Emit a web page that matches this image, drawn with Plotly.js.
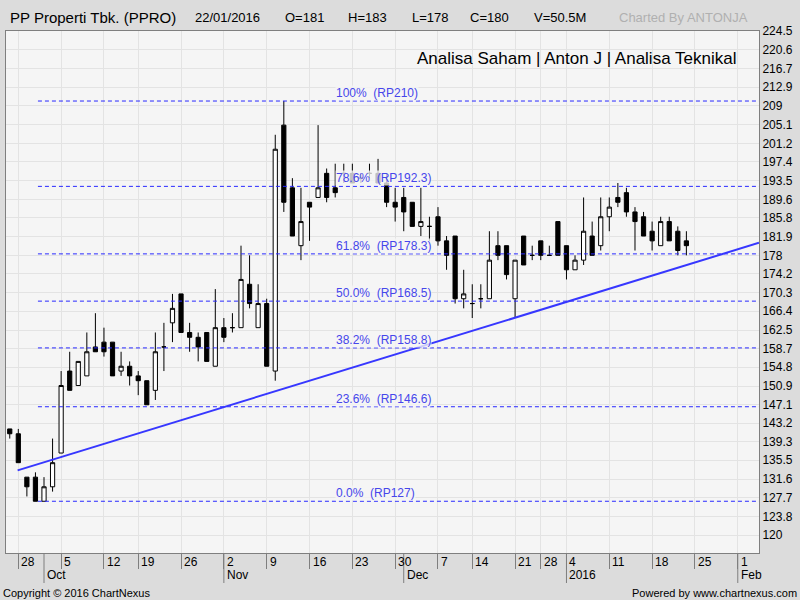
<!DOCTYPE html>
<html>
<head>
<meta charset="utf-8">
<script src="https://cdn.plot.ly/plotly-3.0.1.min.js"></script>
<style>html,body{margin:0;padding:0;background:#dcdcdc;}#chart{width:800px;height:600px;}</style>
</head>
<body>
<div id="chart"></div>
<script>
// ---- data (PPRO daily) ----
const dates = ['2015-09-25','2015-09-28','2015-09-29','2015-09-30','2015-10-01','2015-10-02',
'2015-10-05','2015-10-06','2015-10-07','2015-10-08','2015-10-09','2015-10-12','2015-10-13','2015-10-15','2015-10-16',
'2015-10-19','2015-10-20','2015-10-21','2015-10-22','2015-10-23','2015-10-26','2015-10-27','2015-10-28','2015-10-29','2015-10-30',
'2015-11-02','2015-11-03','2015-11-04','2015-11-05','2015-11-06','2015-11-09','2015-11-10','2015-11-11','2015-11-12','2015-11-13',
'2015-11-16','2015-11-17','2015-11-18','2015-11-19','2015-11-20','2015-11-23','2015-11-24','2015-11-25','2015-11-26','2015-11-27',
'2015-11-30','2015-12-01','2015-12-02','2015-12-03','2015-12-04','2015-12-07','2015-12-08','2015-12-10','2015-12-11',
'2015-12-14','2015-12-15','2015-12-16','2015-12-17','2015-12-18','2015-12-21','2015-12-22','2015-12-23','2015-12-28','2015-12-29','2015-12-30',
'2016-01-04','2016-01-05','2016-01-06','2016-01-07','2016-01-08','2016-01-11','2016-01-12','2016-01-13','2016-01-14','2016-01-15',
'2016-01-18','2016-01-19','2016-01-20','2016-01-21','2016-01-22'];
const openP  = [142,141,132,132,127,130, 137,154,151,153,159,160,160,154,155, 153,152,150,159,164,170,162,161,162,155,
 163,163,163,172,163,168,154,205,192,180, 189,190,195,192,195,195,194,195,195,193, 189,190,189,184,184,186,181,182,169,
 168,169,169,180,180,169,182,178,181,178,185, 180,175,177,182,180,186,190,191,187,186, 183,180,185,183,181];
const highP  = [142,142,132,133,132,140, 154,158,156,162,166,163,160,158,156, 154,152,162,164,170,170,164,162,162,171,
 165,166,180,178,172,169,203,210,194,192, 189,205,196,197,197,197,195,197,198,195, 192,192,189,192,186,188,182,182,175,
 172,172,183,183,180,177,182,180,181,180,185, 180,178,190,185,190,190,193,192,188,187, 185,186,186,184,183];
const lowP   = [140,135,128,127,127,129, 137,150,151,153,158,157,153,153,151, 149,147,148,154,160,162,158,156,156,155,
 160,162,163,167,163,155,152,187,182,177, 181,190,189,190,193,193,193,194,193,188, 185,183,184,182,181,180,175,168,167,
 165,167,169,177,173,165,176,177,177,178,178, 173,175,176,178,179,183,188,186,179,182, 179,180,181,178,178];
const closeP = [141,135,130,127,130,135, 151,150,156,158,158,158,153,155,153, 152,147,158,159,167,162,161,159,156,163,
 161,163,173,168,168,155,200,189,182,185, 188,192,190,191,195,193,194,195,193,189, 188,187,184,185,184,181,178,169,170,
 168,169,177,178,174,177,176,178,178,178,178, 175,177,183,178,186,188,189,187,185,182, 181,185,181,179,180];

// market holidays (no bars)
const holidays = ['2015-10-14','2015-12-09','2015-12-24','2015-12-25','2015-12-31','2016-01-01'];

// x-axis labels
const weekTickDates = ['2015-09-28','2015-10-05','2015-10-12','2015-10-19','2015-10-26','2015-11-02','2015-11-09','2015-11-16',
 '2015-11-23','2015-11-30','2015-12-07','2015-12-14','2015-12-21','2015-12-28','2016-01-04','2016-01-11','2016-01-18','2016-01-25','2016-02-01'];
const weekTickText = ['28','5','12','19','26','2','9','16','23','30','7','14','21','28','4','11','18','25','1'];
const monthDates = ['2015-10-01','2015-11-02','2015-12-01','2016-01-04','2016-02-01'];
const monthText = ['Oct','Nov','Dec','2016','Feb'];

// y-axis labels
const yTickVals = [224.5,220.6,216.7,212.9,209,205.1,201.2,197.4,193.5,189.6,185.8,181.9,178,174.2,170.3,166.4,162.5,158.7,154.8,150.9,147.1,143.2,139.3,135.5,131.6,127.7,123.8,120];

// Fibonacci retracement
const fibPct   = ['100%','78.6%','61.8%','50.0%','38.2%','23.6%','0.0%'];
const fibPrice = [210,192.3,178.3,168.5,158.8,146.6,127];
const fibStart = '2015-09-30 19:00';

// trend line
const trendX = ['2015-09-28 10:00','2016-02-03 23:30'];
const trendY = [133.4,180.6];

// header
const headerTexts = ['PP Properti Tbk. (PPRO)','22/01/2016','O=181','H=183','L=178','C=180','V=50.5M','Charted By ANTONJA'];

// ---- build ----
const noon = d => d + ' 12:00';
const xRange = ['2015-09-25 01:30','2016-02-03 23:30'];
const plotL = 6, plotW = 753, plotT = 31, plotH = 522;
const px2paperX = p => (p - plotL) / plotW;
const py2paperY = p => (plotT + plotH - p) / plotH;

const traces = [];
fibPrice.forEach(v => {
  traces.push({type:'scatter', mode:'lines', x:[fibStart, xRange[1]], y:[v, v],
    line:{color:'rgb(40,40,255)', width:1, dash:'4px,3px'}, hoverinfo:'skip', showlegend:false});
});
traces.push({type:'scatter', mode:'lines', x:trendX, y:trendY,
  line:{color:'rgb(55,55,255)', width:2}, hoverinfo:'skip', showlegend:false});
traces.push({type:'candlestick', x:dates.map(noon), open:openP, high:highP, low:lowP, close:closeP,
  increasing:{line:{color:'#000', width:1}, fillcolor:'#ffffff'},
  decreasing:{line:{color:'#000', width:1}, fillcolor:'#000000'},
  whiskerwidth:0, showlegend:false, hoverinfo:'skip'});

const annotations = [];
fibPct.forEach((p, i) => {
  annotations.push({xref:'paper', yref:'y', x:px2paperX(335), y:fibPrice[i], xanchor:'left', yanchor:'bottom',
    yshift:0, showarrow:false, text:p + '\u00a0\u00a0(RP' + fibPrice[i] + ')',
    font:{size:12, color:'rgb(70,70,235)'}, bgcolor:'rgba(245,245,245,0.78)', borderpad:0});
});
weekTickDates.forEach((d, i) => {
  annotations.push({xref:'x', yref:'paper', x:noon(d), y:0, xanchor:'left', yanchor:'middle', xshift:1, yshift:-9,
    showarrow:false, text:weekTickText[i], font:{size:12, color:'#000'}});
});
monthDates.forEach((d, i) => {
  annotations.push({xref:'x', yref:'paper', x:noon(d), y:0, xanchor:'left', yanchor:'middle', xshift:1, yshift:-22,
    showarrow:false, text:monthText[i], font:{size:12, color:'#000'}});
});
const headerX = [8,193,283,346,410,468,532,617];
headerTexts.forEach((t, i) => {
  annotations.push({xref:'paper', yref:'paper', x:px2paperX(headerX[i]), y:py2paperY(17), xanchor:'left', yanchor:'middle',
    showarrow:false, text:t, font:{size:i === 0 ? 15 : 13, color: i === 7 ? '#b0b0b0' : '#000'}});
});
annotations.push({xref:'paper', yref:'paper', x:px2paperX(738), y:py2paperY(58), xanchor:'right', yanchor:'middle',
  showarrow:false, text:'Analisa Saham | Anton J | Analisa Teknikal', font:{size:17, color:'#000'}});
annotations.push({xref:'paper', yref:'paper', x:px2paperX(1), y:py2paperY(593), xanchor:'left', yanchor:'middle',
  showarrow:false, text:'Copyright © 2016 ChartNexus', font:{size:11, color:'#000'}});
annotations.push({xref:'paper', yref:'paper', x:px2paperX(799), y:py2paperY(593), xanchor:'right', yanchor:'middle',
  showarrow:false, text:'Powered by www.chartnexus.com', font:{size:11, color:'#000'}});

const shapes = monthDates.map(d => ({type:'line', xref:'x', yref:'paper', x0:noon(d), x1:noon(d), y0:0, y1:-30/plotH,
  line:{color:'#7f7f7f', width:1}}));

const layout = {
  width:800, height:600,
  margin:{l:plotL, r:800 - plotL - plotW, t:plotT, b:600 - plotT - plotH, pad:0},
  paper_bgcolor:'#dcdcdc', plot_bgcolor:'#f5f5f5',
  font:{family:'"Liberation Sans", Arial, sans-serif', size:12, color:'#000'},
  showlegend:false,
  xaxis:{type:'date', range:xRange, rangeslider:{visible:false},
    rangebreaks:[{bounds:['sat','mon']}, {values:holidays}],
    tickmode:'array', tickvals:weekTickDates.map(noon), ticktext:weekTickText, showticklabels:false,
    ticks:'outside', ticklen:15, tickcolor:'#7f7f7f', tickwidth:1,
    showgrid:true, gridcolor:'#e3e3e3', gridwidth:1,
    showline:true, mirror:true, linecolor:'#7f7f7f', linewidth:1, zeroline:false,
    fixedrange:true},
  yaxis:{side:'right', range:[116.27, 224.52], tickmode:'array', tickvals:yTickVals, ticktext:yTickVals.map(String),
    ticks:'', showgrid:true, gridcolor:'#e3e3e3', gridwidth:1,
    showline:true, mirror:true, linecolor:'#7f7f7f', linewidth:1, zeroline:false,
    tickfont:{size:12, color:'#000'}, fixedrange:true},
  annotations:annotations, shapes:shapes
};
Plotly.newPlot('chart', traces, layout, {staticPlot:true, displayModeBar:false});
</script>
</body>
</html>
